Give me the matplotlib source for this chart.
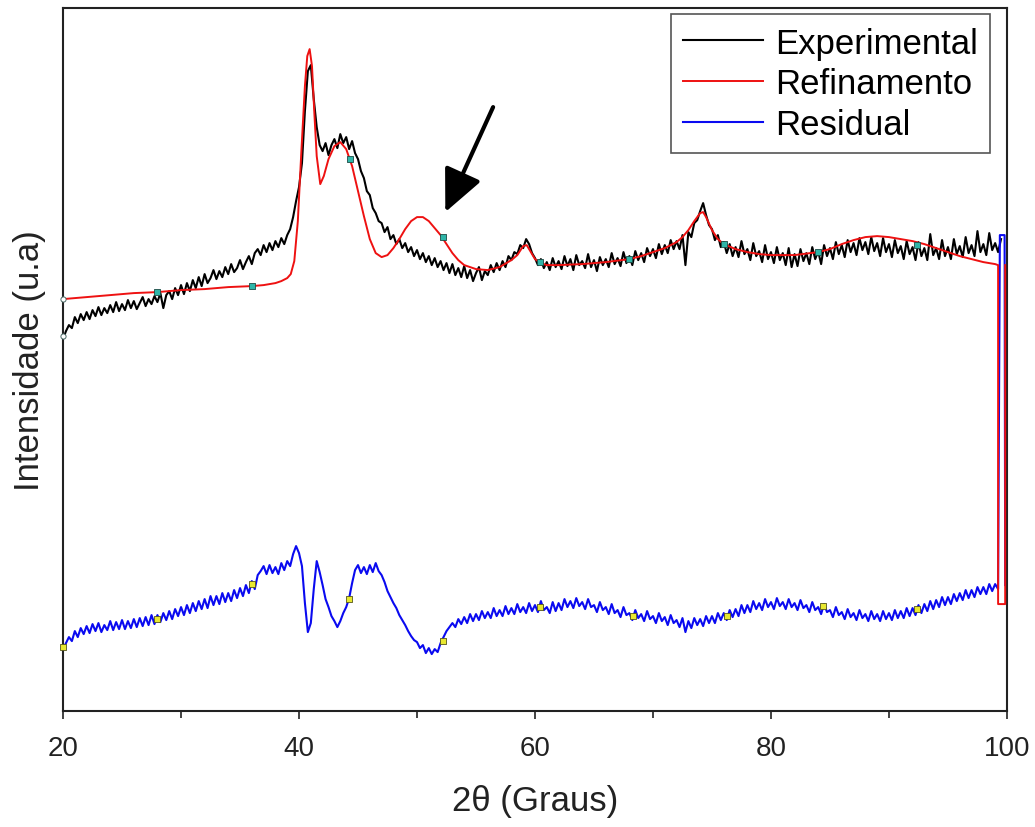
import numpy as np
import matplotlib
matplotlib.use("Agg")
import matplotlib.pyplot as plt

plt.rcParams['font.family'] = ['Liberation Sans', 'DejaVu Sans']

# experimental pattern, 2theta from 20 in 0.25 deg steps
exp_y = [
    372, 380, 386, 383, 394, 388, 397, 391, 399, 392, 401, 395, 404, 396, 403, 398, 406, 399, 409, 400,
    407, 401, 411, 403, 410, 402, 408, 414, 405, 412, 407, 415, 409, 418, 403, 416, 420, 412, 423, 416,
    426, 417, 428, 420, 431, 423, 434, 425, 437, 428, 433, 441, 432, 440, 434, 444, 437, 447, 439, 443,
    451, 442, 449, 455, 447, 458, 462, 456, 466, 459, 468, 461, 470, 464, 473, 467, 476, 482, 494, 510,
    524, 548, 600, 640, 646, 612, 584, 566, 560, 568, 556, 566, 572, 563, 577, 568, 574, 562, 570, 558,
    552, 540, 533, 520, 516, 503, 498, 490, 488, 479, 484, 472, 476, 467, 472, 463, 468, 459, 464, 455,
    461, 452, 458, 449, 455, 446, 453, 444, 450, 441, 448, 438, 447, 436, 443, 434, 445, 433, 441, 430,
    438, 444, 431, 440, 436, 446, 439, 448, 441, 450, 444, 455, 451, 459, 457, 466, 463, 472, 467, 458,
    453, 446, 452, 443, 449, 441, 453, 444, 450, 442, 455, 445, 452, 441, 456, 446, 450, 443, 457, 444,
    451, 440, 454, 446, 452, 444, 458, 447, 453, 445, 459, 448, 455, 446, 460, 451, 458, 449, 463, 455,
    462, 453, 467, 457, 466, 458, 471, 462, 470, 462, 476, 446, 479, 474, 488, 491, 500, 508, 496, 486,
    482, 471, 476, 464, 469, 458, 467, 455, 464, 454, 470, 457, 462, 451, 468, 455, 460, 449, 466, 452,
    459, 448, 464, 451, 458, 446, 463, 444, 457, 445, 462, 450, 458, 447, 464, 452, 460, 447, 466, 455,
    463, 452, 469, 457, 466, 454, 471, 459, 468, 456, 473, 461, 469, 457, 474, 460, 468, 455, 473, 459,
    467, 454, 471, 458, 465, 452, 470, 457, 464, 451, 469, 455, 463, 451, 477, 456, 463, 452, 471, 455,
    464, 452, 472, 457, 465, 454, 474, 458, 466, 455, 480, 459, 467, 456, 478, 461, 468, 459, 472,
]
exp_x = 20 + 0.25 * np.arange(len(exp_y))

# refinement curve (smooth)
ref_x = [20, 22, 24, 26, 28, 30, 32, 34, 36, 37, 38, 38.5, 39, 39.3, 39.6, 39.9, 40.2, 40.5,
         40.7, 40.9, 41.1, 41.3, 41.5, 41.8, 42.1, 42.5, 43.0, 43.5, 44.0, 44.5, 45.0, 45.5,
         46.0, 46.5, 47.0, 47.5, 48.0, 48.5, 49.0, 49.5, 50.0, 50.5, 51.0, 51.5, 52.0, 52.5,
         53.0, 53.5, 54, 55, 56, 57, 58, 58.5, 59, 59.3, 59.6, 60, 60.5, 61, 62, 64, 66, 68,
         69, 70, 71, 72, 72.5, 73, 73.5, 74, 74.25, 74.5, 75, 75.5, 76, 77, 78, 79, 80, 82,
         84, 85, 86, 87, 88, 89, 90, 91, 92, 93, 94, 95, 96, 97, 98, 99, 99.25, 99.25, 99.85, 99.85]
ref_y = [412, 414, 416, 418, 419, 421, 422, 424, 425, 426, 428, 430, 433, 437, 450, 490, 560, 625,
         655, 662, 645, 598, 555, 527, 535, 552, 565, 569, 562, 545, 520, 495,
         472, 458, 454, 456, 463, 472, 482, 490, 494, 494, 490, 483, 476, 467,
         458, 451, 446, 442, 441, 444, 451, 456, 465, 466, 460, 452, 448, 446, 446, 447, 449, 452,
         455, 459, 463, 469, 474, 481, 490, 498, 499, 494, 481, 472, 467, 462, 459, 457, 456, 456,
         459, 462, 467, 471, 474, 475, 474, 472, 470, 467, 463, 459, 455, 452, 449, 447, 446, 107, 107, 446]

# residual, 0.25 deg steps from 20 to 99.25, then the spike at the end
res_y = [
    62, 68, 74, 70, 80, 74, 83, 77, 85, 78, 87, 80, 88, 79, 86, 81, 90, 81, 89, 82,
    91, 82, 90, 83, 92, 84, 93, 85, 94, 86, 96, 87, 96, 89, 98, 91, 100, 92, 102, 95,
    104, 96, 106, 98, 108, 100, 110, 102, 112, 103, 115, 106, 115, 107, 118, 109, 118, 110, 121, 113,
    123, 115, 126, 118, 130, 122, 136, 140, 145, 137, 146, 138, 144, 137, 148, 141, 150, 145, 157, 165,
    158, 145, 108, 79, 88, 122, 150, 139, 126, 112, 104, 95, 90, 84, 90, 98, 104, 113, 128, 141,
    146, 138, 144, 137, 146, 139, 148, 140, 136, 129, 120, 114, 108, 103, 96, 91, 86, 80, 75, 71,
    69, 63, 66, 58, 63, 57, 62, 59, 68, 74, 80, 84, 88, 84, 92, 87, 94, 88, 97, 90,
    97, 91, 100, 93, 99, 93, 103, 95, 101, 95, 105, 97, 103, 97, 107, 99, 104, 98, 108, 100,
    106, 99, 110, 101, 104, 98, 109, 100, 108, 101, 112, 104, 110, 103, 113, 105, 109, 102, 112, 104,
    106, 99, 109, 101, 104, 97, 107, 98, 101, 94, 104, 96, 98, 91, 101, 93, 97, 90, 100, 92,
    95, 88, 98, 90, 94, 86, 96, 88, 91, 84, 93, 79, 90, 83, 93, 86, 92, 85, 95, 88,
    95, 88, 98, 91, 98, 91, 101, 94, 102, 95, 106, 98, 106, 99, 110, 102, 108, 101, 112, 104,
    109, 102, 113, 105, 109, 102, 112, 104, 108, 101, 111, 103, 106, 99, 109, 101, 104, 97, 107, 99,
    101, 94, 104, 96, 99, 92, 102, 94, 98, 91, 101, 93, 97, 90, 100, 92, 97, 90, 100, 92,
    98, 91, 101, 93, 100, 93, 103, 95, 103, 96, 106, 98, 107, 100, 110, 102, 111, 104, 114, 106,
    114, 107, 117, 110, 118, 111, 121, 113, 121, 114, 124, 117, 124, 117, 127, 120, 127, 122,
]
res_tail_x = [99.4, 99.8, 99.85]
res_tail_y = [476, 476, 126]
res_x = np.concatenate([20 + 0.25 * np.arange(len(res_y)), res_tail_x])
res_all = np.concatenate([res_y, res_tail_y])

# little point markers sitting on the curves
mk_top_x = [28, 36, 44.3, 52.2, 60.4, 68, 76, 84, 92.4]
mk_top_y = [419, 425, 552, 474, 449, 452, 467, 459, 466]
mk_res_x = [20, 28, 36, 44.2, 52.2, 60.4, 68.3, 76.3, 84.4, 92.4]
mk_res_y = [64, 92, 127, 112, 70, 104, 95, 95, 105, 102]

fig = plt.figure(figsize=(10.35, 8.28), dpi=100)
ax = fig.add_axes([0.0609, 0.140, 0.912, 0.849])

ax.plot(exp_x, exp_y, color='black', lw=1.5, label='Experimental', zorder=2)
ax.plot(ref_x, ref_y, color='#ee1111', lw=1.4, label='Refinamento', zorder=3)
ax.plot(res_x, res_all, color='#0a0af0', lw=1.5, label='Residual', zorder=2)

ax.scatter(mk_top_x, mk_top_y, marker='s', s=14, c='#2fb5a8', edgecolors='#1d4a44',
           linewidths=0.6, zorder=4)
ax.scatter([20, 20], [412, 375], marker='o', s=14, c='white', edgecolors='#4a6a66',
           linewidths=0.7, zorder=4, clip_on=False)
ax.scatter(mk_res_x, mk_res_y, marker='s', s=14, c='#e8e830', edgecolors='#55551a',
           linewidths=0.6, zorder=4, clip_on=False)

ax.annotate('', xy=(52.4, 499), xytext=(56.45, 604),
            arrowprops=dict(arrowstyle='-|>,head_length=1.3,head_width=0.6',
                            mutation_scale=20, lw=3, color='black', shrinkA=0, shrinkB=0))

ax.set_xlim(20, 100)
ax.set_ylim(0, 703)
ax.set_xticks([20, 40, 60, 80, 100])
ax.set_xticks([30, 50, 70, 90], minor=True)
ax.set_yticks([])
ax.tick_params(axis='x', which='major', direction='out', length=6, width=1.2,
               labelsize=20, pad=11, colors='#222222')
ax.tick_params(axis='x', which='minor', direction='out', length=5, width=1.2, colors='#222222')
for s in ax.spines.values():
    s.set_linewidth(1.5)
    s.set_color('#222222')

ax.set_xlabel('2θ (Graus)', fontsize=25, labelpad=17, color='#222222')
ax.set_ylabel('Intensidade (u.a)', fontsize=25, labelpad=12, color='#222222')

leg = ax.legend(loc='upper right', bbox_to_anchor=(0.982, 0.991), borderaxespad=0,
                fontsize=25, fancybox=False, edgecolor='#555555', framealpha=1,
                handlelength=2.3, handletextpad=0.35, labelspacing=0.22, borderpad=0.35)
leg.get_frame().set_linewidth(1.2)

fig.savefig('out.png', dpi=100)
